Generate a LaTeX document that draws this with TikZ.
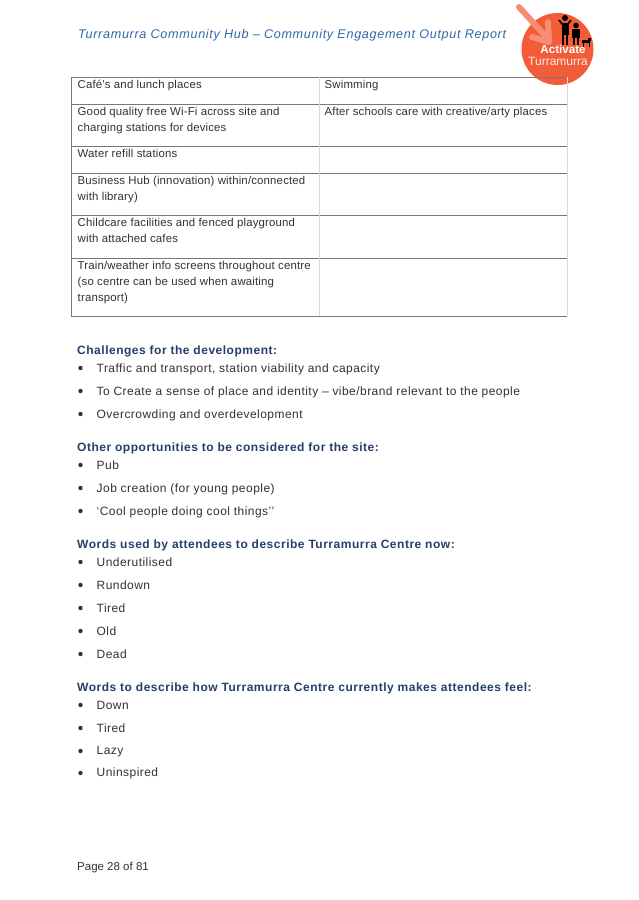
\documentclass[tikz,border=0pt]{standalone}
\usepackage{fontspec}
\setmainfont{Liberation Sans}
\newfontfamily\spacedfont[LetterSpace=3.8]{Liberation Sans}
\newfontfamily\cellfont[LetterSpace=1.5]{Liberation Sans}
\newfontfamily\headfont[LetterSpace=5.5]{Liberation Sans}
\newfontfamily\subfont[LetterSpace=4.3]{Liberation Sans}
\definecolor{headblue}{RGB}{47,104,170}
\definecolor{subblue}{RGB}{38,62,106}
\definecolor{bodygrey}{RGB}{50,50,50}
\definecolor{logored}{RGB}{243,92,56}
\definecolor{arrowpink}{RGB}{250,140,115}
\definecolor{ruledark}{RGB}{120,120,120}
\definecolor{rulelight}{RGB}{215,215,215}
\tikzset{
  body/.style={anchor=west,inner sep=0pt,text=bodygrey,font=\fontsize{12}{12}\selectfont\spacedfont},
  cell/.style={inner sep=0pt,text=bodygrey,anchor=north west,align=left,font=\fontsize{11.4}{15.8}\selectfont\cellfont},
  subhead/.style={anchor=west,inner sep=0pt,text=subblue,font=\fontsize{12}{12}\selectfont\subfont\bfseries},
  bullet/.style={circle,fill=bodygrey,inner sep=0pt,minimum size=4.4pt},
  hrule/.style={ruledark,line width=1pt},
  vrule/.style={rulelight,line width=0.8pt}
}
\begin{document}
\begin{tikzpicture}[x=1pt,y=-1pt]
  \useasboundingbox[fill=white] (0,0) rectangle (638,900);
  \node[anchor=west,inner sep=0pt,text=headblue,font=\fontsize{12.6}{12}\selectfont\headfont\itshape] (title) at (78,35)
    {Turramurra Community Hub – Community Engagement Output Report};
  % logo
  \fill[logored] (557.5,49) circle (36);
  \draw[arrowpink,line width=6pt,line cap=round,line join=round] (519,7) -- (549,40);
  \draw[arrowpink,line width=6pt,line cap=round,line join=round] (532,37) -- (549,42) -- (548,22);
  \fill[black] (565,18) circle (3) (576,25.5) circle (2.8);
  \draw[black,line width=1.6pt] (559,20) -- (562,24) -- (568,24) -- (571,20);
  \fill[black] (561.5,24) rectangle (568.5,35);
  \draw[black,line width=2.2pt] (563,35) -- (563,45) (567,35) -- (567,45);
  \fill[black] (572,29) rectangle (580,38);
  \draw[black,line width=1.9pt] (574,38) -- (574,45) (578,38) -- (578,45);
  \fill[black] (582,40) rectangle (590,43) (588,38) rectangle (591,41);
  \draw[black,line width=1pt] (583,43) -- (583,47) (589,43) -- (589,47);
  \node[inner sep=0pt,text=white,font=\fontsize{11.6}{12}\selectfont\bfseries] (logotop) at (563,49) {Activate};
  \node[inner sep=0pt,text=white!88!logored,font=\fontsize{12}{12}\selectfont] (logobot) at (558,61) {Turramurra};
  % table
  \draw[hrule] (71,77) -- (567,77);
  \draw[hrule] (71,104) -- (567,104);
  \draw[hrule] (71,146) -- (567,146);
  \draw[hrule] (71,173) -- (567,173);
  \draw[hrule] (71,215) -- (567,215);
  \draw[hrule] (71,258) -- (567,258);
  \draw[hrule] (71,316) -- (567,316);
  \draw[ruledark,line width=0.7pt] (71,77) -- (71,316);
  \draw[vrule] (319.5,77) -- (319.5,316);
  \draw[vrule] (567,77) -- (567,316);
  \node[cell] (food) at (77.5,77.4) {\strut Café’s and lunch places};
  \node[cell] (swim) at (324.5,77.4) {\strut Swimming};
  \node[cell] (wifi) at (77.5,104.4) {\strut Good quality free Wi-Fi across site and\\charging stations for devices};
  \node[cell] (care) at (324.5,104.4) {\strut After schools care with creative/arty places};
  \node[cell] (water) at (77.5,146.4) {\strut Water refill stations};
  \node[cell] (biz) at (77.5,173.4) {\strut Business Hub (innovation) within/connected\\with library)};
  \node[cell] (child) at (77.5,215.4) {\strut Childcare facilities and fenced playground\\with attached cafes};
  \node[cell] (train) at (77.5,258.4) {\strut Train/weather info screens throughout centre\\(so centre can be used when awaiting\\transport)};
  % lists
  \node[subhead] (chal) at (77,351) {Challenges for the development:};
  \node[body] (c1) at (96.5,369) {Traffic and transport, station viability and capacity};
  \node[body] (c2) at (96.5,392) {To Create a sense of place and identity – vibe/brand relevant to the people};
  \node[body] (c3) at (96.5,415) {Overcrowding and overdevelopment};
  \node[subhead] (opp) at (77,448) {Other opportunities to be considered for the site:};
  \node[body] (o1) at (96.5,465.5) {Pub};
  \node[body] (o2) at (96.5,489) {Job creation (for young people)};
  \node[body] (o3) at (96.5,512) {‘Cool people doing cool things’’};
  \node[subhead] (now) at (77,545) {Words used by attendees to describe Turramurra Centre now:};
  \node[body] (n1) at (96.5,562.5) {Underutilised};
  \node[body] (n2) at (96.5,585.5) {Rundown};
  \node[body] (n3) at (96.5,608.5) {Tired};
  \node[body] (n4) at (96.5,631.5) {Old};
  \node[body] (n5) at (96.5,654.5) {Dead};
  \node[subhead] (feel) at (77,688) {Words to describe how Turramurra Centre currently makes attendees feel:};
  \node[body] (f1) at (96.5,705.5) {Down};
  \node[body] (f2) at (96.5,728.5) {Tired};
  \node[body] (f3) at (96.5,751.5) {Lazy};
  \node[body] (f4) at (96.5,773.5) {Uninspired};
  \foreach \y in {368,391,414,465,488,511,562,585,608,631,654,705,728,751,773}
    \node[bullet] at (80.5,\y) {};
  \node[anchor=west,inner sep=0pt,text=bodygrey,font=\fontsize{11.5}{12}\selectfont] (page) at (77,868) {Page 28 of 81};
\end{tikzpicture}
\end{document}
